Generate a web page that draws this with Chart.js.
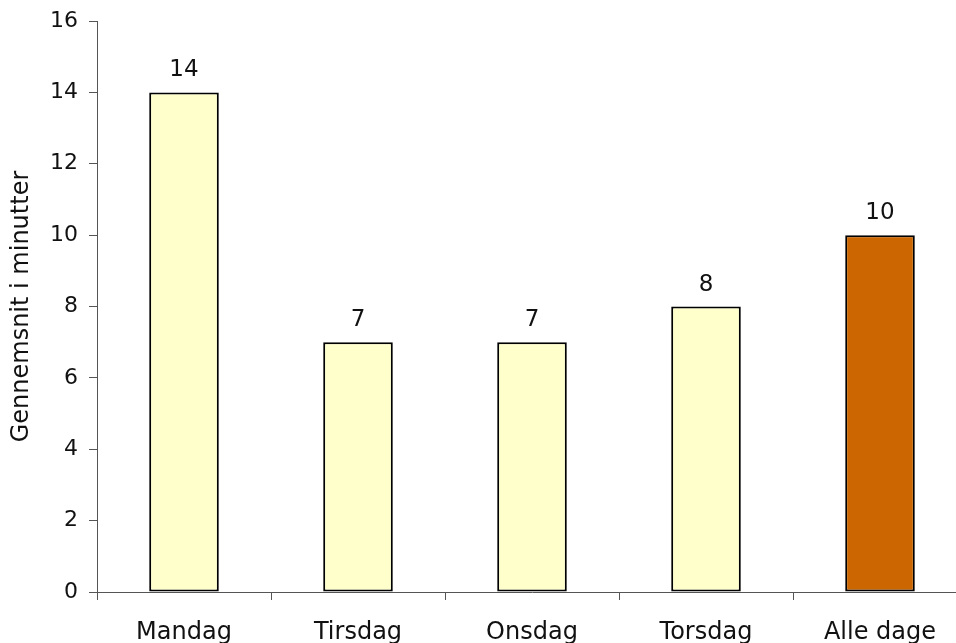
<!DOCTYPE html>
<html lang="da">
<head>
<meta charset="UTF-8" />
<title>Gennemsnit i minutter</title>
<script src="https://cdn.jsdelivr.net/npm/chart.js"></script>
<style>
  html, body { margin: 0; padding: 0; background: #fff; overflow: hidden; }
  .wrap { width: 980px; height: 643px; }
</style>
</head>
<body>
<div class="wrap"><canvas id="chart"></canvas></div>
<script>
const days = ['Mandag', 'Tirsdag', 'Onsdag', 'Torsdag', 'Alle dage'];
const minutes = [14, 7, 7, 8, 10];
const barColors = ['#FFFFCC', '#FFFFCC', '#FFFFCC', '#FFFFCC', '#CC6600'];
const yTicks = [0, 2, 4, 6, 8, 10, 12, 14, 16];

const FONT = "'DejaVu Sans', Verdana, sans-serif";

// draw value above every bar
const valueLabels = {
  id: 'valueLabels',
  afterDatasetsDraw(chart) {
    const ctx = chart.ctx;
    const meta = chart.getDatasetMeta(0);
    ctx.save();
    ctx.font = '23px ' + FONT;
    ctx.fillStyle = '#111';
    ctx.textAlign = 'center';
    ctx.textBaseline = 'alphabetic';
    meta.data.forEach((bar, i) => {
      ctx.fillText(String(minutes[i]), bar.x, bar.y - 16);
    });
    ctx.restore();
  }
};

new Chart(document.getElementById('chart'), {
  type: 'bar',
  data: {
    labels: days,
    datasets: [{
      data: minutes,
      backgroundColor: barColors,
      borderColor: '#000',
      borderWidth: 2,
      borderSkipped: false,
      categoryPercentage: 1,
      barPercentage: 0.4
    }]
  },
  options: {
    responsive: true,
    maintainAspectRatio: false,
    animation: false,
    layout: { padding: { left: 0, right: 13, top: 21, bottom: 0 } },
    plugins: {
      legend: { display: false },
      tooltip: { enabled: false }
    },
    scales: {
      x: {
        afterFit: s => { s.height = 51; s.paddingLeft = 0; s.paddingRight = 0; },
        grid: { drawOnChartArea: false, drawTicks: true, tickLength: 8, color: '#555', offset: true },
        border: { display: true, color: '#555', width: 1 },
        ticks: { color: '#111', font: { family: FONT, size: 24 }, padding: 18, maxRotation: 0 }
      },
      y: {
        min: 0,
        max: 16,
        afterFit: s => { s.width = 97; s.paddingTop = 0; s.paddingBottom = 0; },
        afterBuildTicks: s => { s.ticks = yTicks.map(v => ({ value: v })); },
        grid: { drawOnChartArea: false, drawTicks: true, tickLength: 8, color: '#555' },
        border: { display: true, color: '#555', width: 1 },
        ticks: { color: '#111', font: { family: FONT, size: 22 }, padding: 11 },
        title: {
          display: true,
          text: 'Gennemsnit i minutter',
          color: '#111',
          font: { family: FONT, size: 24 },
          padding: { top: 7, bottom: 0 }
        }
      }
    }
  },
  plugins: [valueLabels]
});
</script>
</body>
</html>
